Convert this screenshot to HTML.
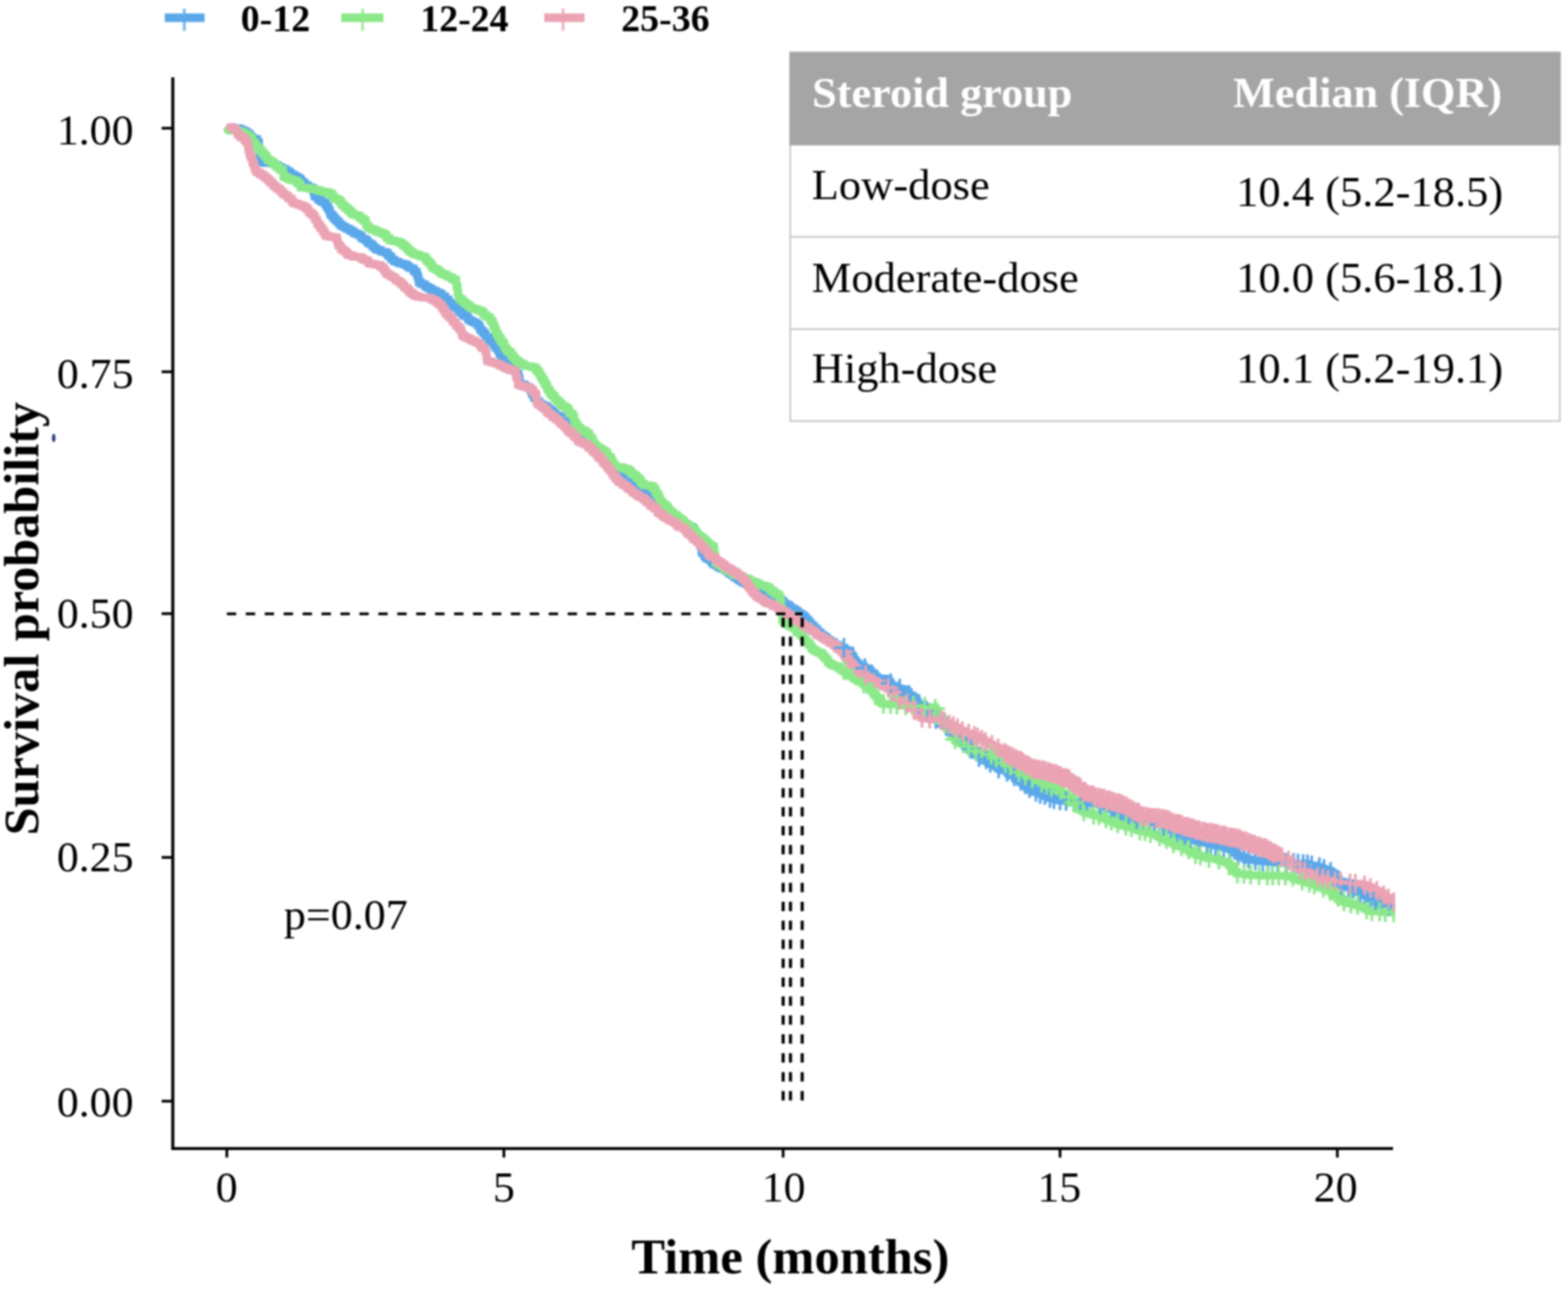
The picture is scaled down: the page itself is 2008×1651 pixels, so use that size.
<!DOCTYPE html>
<html lang="en"><head><meta charset="utf-8"><title>Survival probability by steroid group</title>
<style>
html,body{margin:0;padding:0;background:#fff;}
body{width:2008px;height:1651px;overflow:hidden;position:relative;font-family:"Liberation Serif",serif;}
</style></head><body>
<svg width="2008" height="1651" viewBox="0 0 2008 1651" style="position:absolute;left:0;top:0;filter:blur(1px)">
<rect width="2008" height="1651" fill="#fff"/>
<g stroke="#000" stroke-width="3.9" fill="none" stroke-linecap="butt">
<path d="M221.3 99V1471.1H1784"/>
<path d="M207 164.2H221.5" stroke-width="3.5"/>
<path d="M207 476.2H221.5" stroke-width="3.5"/>
<path d="M207 786H221.5" stroke-width="3.5"/>
<path d="M207 1098.2H221.5" stroke-width="3.5"/>
<path d="M207 1410.4H221.5" stroke-width="3.5"/>
<path d="M290.5 1471.1V1482.6" stroke-width="3.5"/>
<path d="M645.3 1471.1V1482.6" stroke-width="3.5"/>
<path d="M1002.9 1471.1V1482.6" stroke-width="3.5"/>
<path d="M1357.5 1471.1V1482.6" stroke-width="3.5"/>
<path d="M1712.6 1471.1V1482.6" stroke-width="3.5"/>
</g>
<defs><clipPath id="plotclip"><rect x="222" y="100" width="1564.5" height="1370"/></clipPath></defs>
<g clip-path="url(#plotclip)">
<path d="M296.0 163.0H297.7V164.1H301.2V164.1H303.1V164.2H305.5V164.7H307.9V166.3H309.0V166.3H311.9V167.9H315.1V169.9H317.6V171.3H319.8V174.3H322.1V176.1H324.1V177.9H327.7V177.9H329.4V179.8H329.4V182.5H331.8V184.9H331.8V187.8H331.8V190.2H331.8V192.4H332.4V195.5H332.4V197.6H332.4V200.5H332.8V202.3H334.0V205.8H334.0V208.3H336.2V208.3H339.2V208.9H340.0V208.9H343.4V208.9H346.1V208.9H347.7V208.9H350.7V210.0H352.1V211.2H355.6V213.0H357.3V213.8H360.2V215.6H362.3V216.5H366.0V218.6H369.3V220.4H371.6V222.5H373.8V224.2H377.6V226.0H379.8V227.2H382.8V228.9H385.2V232.1H387.6V234.0H390.0V236.9H392.7V237.4H394.7V240.0H399.1V241.2H401.0V242.4H401.2V244.1H401.9V247.9H402.8V249.4H402.8V251.6H405.7V252.9H407.4V255.9H409.8V256.7H411.6V258.6H415.1V259.4H416.6V262.0H418.5V265.0H420.2V267.3H421.4V269.3H422.4V271.6H422.9V274.8H425.3V276.0H426.6V279.0H429.1V281.5H431.3V283.7H434.1V286.7H436.5V289.0H439.2V290.2H440.7V291.1H443.4V293.0H447.1V294.7H449.5V296.0H451.5V296.7H453.5V299.0H456.8V299.3H458.1V300.8H461.9V302.9H463.2V305.3H466.4V306.7H468.6V308.0H470.7V310.8H473.1V312.4H476.5V314.8H478.2V316.9H481.0V319.0H482.7V319.8H486.1V320.4H488.1V322.7H491.4V322.7H494.0V324.0H496.7V327.1H498.1V328.1H500.9V331.9H504.0V334.0H505.8V335.2H509.2V335.7H510.8V337.4H514.3V337.4H515.8V338.4H518.7V339.0H521.0V340.8H523.4V342.6H525.4V343.6H529.5V346.3H530.9V348.0H533.7V349.0H533.8V352.3H535.1V353.8H535.1V355.6H536.2V358.2H536.2V361.5H539.1V363.8H541.2V363.9H544.2V366.9H546.4V367.5H548.6V369.0H550.9V370.0H553.0V371.8H555.9V372.1H557.8V374.2H560.6V375.2H563.5V376.4H565.7V379.5H569.2V380.4H570.5V383.4H574.4V386.6H575.7V388.1H578.5V391.0H581.3V393.6H584.3V394.7H586.7V397.3H588.5V399.9H591.0V401.0H592.8V403.6H594.8V404.9H598.5V407.2H600.0V409.9H602.9V411.3H605.4V412.1H606.9V413.1H609.6V414.7H612.3V417.6H614.6V420.7H615.2V422.8H617.9V425.4H619.6V427.2H621.9V431.3H625.6V433.9H627.2V436.2H629.9V438.6H632.1V440.8H633.4V442.9H634.2V445.3H637.4V448.3H639.2V450.5H639.7V453.4H641.8V455.3H644.8V456.8H646.9V459.3H648.3V463.1H650.6V464.4H653.8V467.2H656.7V469.7H657.2V471.9H659.5V475.6H661.2V478.6H664.0V480.5H664.2V483.6H665.5V484.7H665.5V487.4H665.5V490.0H666.0V492.0H667.6V492.3H671.7V494.0H673.4V495.5H675.3V496.0H678.0V498.0H679.9V501.2H681.2V502.1H681.2V505.4H683.7V507.7H684.0V510.0H687.3V513.3H690.0V516.0H691.9V517.6H694.3V518.5H696.2V520.0H700.2V521.8H701.6V523.4H704.3V525.6H707.2V527.0H708.4V528.8H710.8V531.7H713.5V533.0H717.0V533.8H718.8V535.5H721.9V536.6H724.1V539.2H725.5V540.5H727.5V543.0H730.0V545.3H731.2V548.7H733.6V551.4H736.0V553.9H737.4V555.6H740.0V558.0H742.9V559.1H745.6V561.2H747.7V564.6H750.2V565.3H751.3V567.5H755.2V569.0H757.5V570.7H759.9V572.4H761.3V575.8H764.0V577.0H766.7V580.2H769.0V582.4H770.9V583.8H772.6V586.2H775.3V589.6H776.6V590.9H780.1V594.7H781.5V596.7H784.3V599.0H785.6V601.3H788.0V604.0H790.1V605.0H793.3V607.5H795.7V608.7H797.9V610.7H800.0V612.7H803.8V614.8H805.7V616.8H807.9V618.7H810.0V619.4H812.9V622.0H815.5V623.6H818.0V625.8H819.6V627.1H822.4V628.4H824.7V630.7H827.2V632.3H830.5V635.5H832.0V637.5H834.2V638.9H837.6V642.8H839.6V645.1H843.5V646.7H845.7V650.2H848.0V652.0H850.2V653.9H853.3V655.3H855.9V657.4H858.5V658.4H859.6V659.4H862.1V661.6H865.0V663.0H867.8V663.7H870.1V666.4H871.8V667.5H873.8V669.4H876.0V671.4H879.7V672.2H881.1V674.2H883.9V675.0H887.1V677.0H889.2V680.9H891.4V683.3H893.4V686.3H895.9V688.2H897.0V690.5H897.0V693.2H897.0V695.5H897.0V699.1H898.2V700.2H898.2V703.3H898.2V706.0H899.2V708.6H901.8V712.0H903.7V714.6H905.7V715.8H908.9V717.7H911.6V721.0H913.8V723.0H916.8V723.7H918.3V725.5H920.7V726.8H923.1V728.1H926.0V729.0H929.1V731.2H931.9V732.5H933.6V734.7H936.6V735.9H938.4V737.0H940.5V739.7H943.7V740.8H945.3V742.7H948.3V744.5H950.9V746.0H952.1V746.6H955.0V748.0H957.6V748.5H960.0V749.4H962.6V749.6H964.9V751.2H967.1V752.0H970.0V753.0H973.0V754.5H975.0V755.6H977.3V756.0H979.1V757.3H982.7V759.5H985.0V760.0H988.1V761.3H990.9V762.4H993.1V763.6H995.0V765.0H998.2V768.4H1000.2V769.5H1003.4V772.7H1006.0V774.2H1007.9V774.7H1010.4V776.9H1012.8V779.1H1015.4V779.9H1017.9V782.0H1020.9V783.7H1022.5V785.3H1025.2V786.8H1027.3V788.2H1029.9V790.7H1032.3V793.7H1035.3V796.6H1037.5V799.2H1039.3V801.4H1042.2V803.9H1043.8V805.7H1046.8V809.2H1048.9V810.2H1051.2V813.2H1054.3V815.0H1056.1V815.9H1058.7V819.0H1061.1V820.1H1063.7V822.1H1066.4V822.7H1068.5V825.7H1071.2V826.2H1073.6V828.0H1075.6V829.2H1077.5V829.6H1081.1V830.7H1082.0V832.7H1085.2V832.8H1087.6V834.0H1089.1V837.1H1090.0V839.7H1092.4V842.7H1093.5V844.8H1095.1V847.4H1097.0V849.7H1099.5V852.0H1101.5V853.5H1105.4V853.7H1106.9V855.8H1110.0V856.0H1113.1V859.2H1114.5V861.9H1118.3V863.5H1120.6V866.9H1123.4V869.0H1126.3V869.0H1128.4V869.0H1131.5V869.5H1133.7V870.2H1135.4V870.2H1137.6V872.4H1139.4V875.1H1141.3V878.6H1143.2V879.8H1146.1V880.8H1148.4V881.6H1151.8V881.7H1153.2V882.7H1156.5V883.0H1159.0V884.6H1160.8V886.2H1164.0V890.1H1165.7V891.0H1169.0V894.8H1171.0V896.6H1174.2V899.1H1175.5V901.8H1177.4V903.8H1179.8V905.6H1182.9V907.9H1184.7V909.9H1188.2V912.6H1190.0V915.0H1192.7V916.3H1195.6V918.3H1197.9V921.1H1201.2V921.3H1203.5V924.6H1205.2V925.5H1208.2V928.3H1210.5V930.0H1213.7V930.5H1216.6V932.0H1217.8V935.0H1221.0V936.5H1222.5V938.7H1225.0V941.3H1228.6V944.6H1229.5V945.5H1233.3V948.0H1234.6V950.6H1236.6V952.9H1239.9V956.6H1242.3V959.2H1244.6V960.9H1246.9V964.4H1249.0V966.0H1251.7V967.0H1253.1V969.8H1256.6V970.2H1259.1V972.1H1261.4V972.7H1263.6V974.8H1265.7V977.2H1268.6V978.3H1271.6V979.9H1273.7V981.0H1276.6V982.7H1278.2V984.4H1280.5V985.5H1284.3V986.6H1285.3V986.6H1289.2V988.4H1290.9V990.6H1293.6V991.0H1295.3V993.1H1298.5V994.3H1300.9V997.4H1304.2V998.1H1306.1V1000.3H1309.1V1002.3H1310.2V1004.8H1313.9V1006.7H1315.3V1009.5H1318.5V1011.0H1321.5V1012.7H1323.1V1013.0H1325.4V1014.3H1328.0V1014.9H1331.3V1017.1H1333.4V1017.1H1336.0V1018.3H1339.0V1019.9H1341.2V1020.9H1343.1V1022.3H1346.1V1022.3H1348.0V1023.7H1349.8V1023.7H1353.0V1023.7H1355.1V1024.6H1357.0V1025.3H1360.6V1025.3H1362.4V1025.3H1364.9V1025.9H1367.7V1025.9H1369.5V1026.7H1372.3V1026.7H1374.3V1027.4H1377.5V1027.5H1380.0V1027.5H1383.3V1028.1H1385.6V1028.3H1388.3V1028.3H1389.3V1028.3H1392.6V1029.2H1395.5V1029.2H1397.9V1029.2H1400.8V1029.3H1402.3V1029.3H1405.0V1029.6H1408.3V1030.6H1409.4V1030.8H1412.8V1032.5H1415.6V1032.7H1417.2V1034.6H1419.0V1034.6H1422.4V1035.7H1424.8V1037.0H1426.5V1038.6H1429.9V1041.0H1431.4V1042.2H1435.2V1045.3H1437.0V1047.0H1438.9V1048.0H1441.2V1048.0H1445.2V1048.4H1446.7V1049.1H1449.8V1049.4H1452.9V1049.4H1454.7V1049.5H1457.5V1050.1H1460.5V1051.0H1462.6V1051.6H1465.6V1051.6H1466.6V1052.4H1470.1V1052.5H1472.1V1052.8H1475.3V1054.0H1477.3V1054.0H1479.6V1054.5H1482.7V1055.4H1484.0V1056.0H1487.4V1056.4H1488.9V1057.9H1492.7V1059.6H1495.4V1060.2H1497.1V1061.2H1499.5V1062.0H1502.0V1063.5H1505.1V1065.7H1506.8V1066.5H1509.2V1067.4H1512.0V1069.3H1514.6V1071.4H1517.0V1072.0H1518.9V1073.0H1522.9V1073.9H1524.6V1074.0H1526.8V1075.7H1530.2V1076.0H1532.7V1077.2H1535.1V1077.2H1536.9V1078.5H1539.3V1079.1H1542.0V1079.4H1544.4V1079.7H1546.8V1079.8H1549.1V1081.0H1551.0V1081.1H1553.9V1082.9H1556.9V1082.9H1560.1V1082.9H1561.7V1084.4H1564.5V1084.4H1567.1V1085.1H1569.5V1085.6H1572.4V1086.6H1574.0V1086.8H1575.8V1088.1H1579.9V1090.3H1580.8V1092.4H1584.1V1095.6H1586.7V1096.8H1589.0V1097.9H1592.2V1097.9H1594.3V1099.8H1596.7V1099.8H1598.8V1101.2H1602.4V1101.2H1604.0V1101.8H1606.6V1101.9H1609.3V1101.9H1611.1V1102.1H1614.0V1103.2H1617.1V1103.4H1619.3V1103.4H1621.3V1103.6H1623.6V1103.6H1627.2V1103.6H1629.0V1104.0H1632.1V1104.0H1633.7V1104.9H1635.9V1104.9H1638.7V1105.1H1642.2V1105.1H1643.8V1105.3H1646.3V1105.3H1649.2V1105.3H1651.2V1105.3H1654.5V1105.3H1656.9V1105.9H1658.2V1105.9H1661.0V1105.9H1664.1V1105.9H1666.0V1105.9H1668.1V1106.4H1670.9V1106.4H1673.1V1107.1H1676.3V1108.3H1678.8V1108.3H1680.6V1108.3H1683.8V1109.0H1685.9V1110.3H1688.4V1110.4H1691.0V1111.8H1693.5V1113.0H1695.7V1114.5H1699.1V1114.8H1700.4V1115.4H1703.7V1116.7H1705.8V1119.4H1707.8V1122.3H1708.6V1124.1H1710.4V1125.9H1711.8V1128.6H1713.5V1131.6H1716.0V1134.0H1718.9V1134.8H1721.4V1134.9H1723.0V1136.3H1726.7V1136.7H1727.7V1136.7H1730.7V1138.5H1733.6V1139.0H1735.3V1139.8H1738.9V1142.4H1740.8V1142.9H1743.6V1143.1H1745.7V1144.6H1748.1V1147.0H1751.3V1147.0H1753.5V1149.0H1755.2V1151.1H1757.8V1152.0H1760.5V1153.2H1762.6V1155.0H1765.7V1158.1H1768.4V1159.0H1771.0V1159.0H1773.5V1159.3H1775.5V1159.8H1778.7V1160.2H1780.8V1161.0H1783.2V1161.3H1785.0V1161.5" fill="none" stroke="#5AA8EA" stroke-width="9.8" stroke-linejoin="miter" stroke-linecap="round"/>
<path d="M291.0 166.5H294.6V167.4H295.7V167.4H299.9V167.4H302.0V167.4H304.8V167.7H307.2V169.2H309.6V169.4H312.0V171.0H314.5V172.4H317.6V175.2H319.8V175.9H322.2V178.4H322.9V180.2H323.8V182.2H326.1V185.1H327.8V187.8H330.3V191.2H333.2V193.2H335.8V195.8H337.3V197.3H339.4V199.9H341.7V203.8H343.7V205.3H346.7V206.9H349.7V210.1H351.7V211.7H354.5V214.0H357.0V215.4H358.6V217.4H361.3V218.1H362.7V220.1H362.8V223.8H362.9V226.0H365.4V227.0H368.0V228.7H370.5V229.5H372.8V230.5H375.6V230.8H379.0V232.3H381.1V234.8H383.6V235.6H384.8V238.0H385.2V240.4H387.1V240.4H390.3V240.4H393.1V240.8H395.5V241.1H397.9V242.1H399.5V242.1H402.0V242.6H404.7V243.4H406.6V243.4H409.5V245.2H412.2V245.2H415.0V246.0H417.6V246.0H419.4V246.8H422.5V248.0H425.0V250.5H426.9V253.6H429.4V255.0H433.4V256.5H435.4V259.0H437.6V262.3H440.7V264.6H442.7V266.6H445.7V269.7H449.0V272.0H450.7V274.2H453.1V275.2H455.6V275.8H459.6V277.0H460.9V279.4H464.0V280.5H465.6V282.5H468.6V285.5H468.7V288.6H471.4V291.7H474.1V293.2H475.6V293.5H477.9V294.7H481.7V296.3H484.4V297.3H486.8V298.3H488.5V298.5H491.0V300.0H494.0V302.3H495.6V305.2H499.0V308.0H502.2V308.0H504.2V309.0H506.5V309.2H509.8V310.0H511.7V310.9H514.0V311.6H515.5V314.0H518.2V315.4H520.4V317.8H522.9V321.0H526.0V323.0H528.5V324.9H531.8V325.9H533.1V325.9H535.6V327.2H538.8V328.5H541.5V328.6H543.6V330.0H545.5V332.6H546.7V334.4H549.4V337.1H552.0V339.9H553.6V343.0H555.4V343.8H558.1V345.3H561.1V347.2H563.2V348.9H565.5V350.8H568.5V351.5H571.8V353.3H573.4V354.4H576.1V354.9H578.4V357.2H580.4V357.9H583.5V360.0H584.5V362.4H584.5V366.0H585.0V367.5H586.1V370.3H586.1V373.5H586.1V375.4H587.2V378.7H587.2V381.0H588.4V382.9H591.3V385.0H593.2V387.2H596.0V389.0H597.2V390.1H600.0V392.0H602.3V394.0H604.4V394.8H607.2V395.7H610.1V396.7H613.3V397.7H614.7V398.4H618.0V400.3H619.6V403.3H623.0V405.9H625.5V406.6H627.8V410.4H629.9V412.3H631.3V414.9H631.6V417.4H633.4V419.6H633.9V422.6H635.7V425.8H635.9V427.8H638.2V430.8H638.5V432.1H640.3V434.5H641.7V437.7H644.1V439.9H645.4V441.4H646.1V445.4H647.8V446.9H649.2V449.2H651.0V451.0H654.5V455.0H656.1V455.8H657.4V458.4H659.8V461.3H662.5V463.0H664.4V464.2H666.2V465.6H670.1V467.4H671.7V468.4H673.4V468.9H676.9V468.9H679.6V469.8H681.7V470.1H683.7V470.8H686.5V473.7H687.6V475.0H689.3V477.2H691.5V481.1H693.2V482.8H693.8V485.2H695.6V487.4H697.2V490.7H698.4V492.3H700.0V494.4H700.8V497.4H701.6V499.5H704.1V502.5H705.1V504.5H707.4V507.0H710.4V509.3H710.6V511.4H713.5V513.9H716.3V516.5H718.6V518.3H719.8V520.4H723.5V521.7H725.5V523.4H728.3V526.8H729.0V529.4H732.3V531.0H733.9V534.2H735.5V537.0H735.7V540.0H736.8V542.3H738.5V544.2H739.8V547.3H742.4V548.7H744.1V551.1H746.4V551.1H749.5V553.8H752.0V554.7H754.0V557.7H755.4V560.1H756.8V562.0H758.8V564.1H759.7V567.9H761.6V570.5H763.9V572.6H766.8V573.9H769.0V576.0H771.8V576.3H772.9V578.1H775.9V579.8H777.5V582.0H778.4V585.0H781.8V587.2H782.8V589.8H784.3V593.3H785.8V595.4H787.8V597.7H790.2V598.2H793.3V598.2H795.6V598.7H797.7V600.1H799.8V600.1H802.5V601.5H805.2V602.6H807.2V604.8H809.4V607.4H811.7V608.4H814.6V611.0H816.2V612.7H818.8V615.1H820.9V618.8H823.7V620.4H825.4V621.7H828.2V621.7H830.5V621.8H833.1V622.7H835.6V624.0H837.0V626.0H839.3V629.5H840.0V631.4H841.6V633.5H843.9V635.9H843.9V638.4H845.5V641.9H847.6V644.3H849.8V646.4H852.9V648.6H855.3V651.7H856.9V654.4H859.5V656.2H861.7V658.8H865.3V660.1H867.3V662.9H869.9V664.5H872.0V666.0H875.1V668.8H877.3V670.9H878.8V672.2H881.9V673.8H884.0V676.0H886.2V677.6H889.6V680.1H891.2V683.3H893.0V685.6H896.0V687.0H897.7V688.3H900.5V691.1H903.8V694.2H905.9V695.5H907.8V697.8H911.0V699.9H914.0V703.0H914.9V705.2H914.9V708.1H914.9V710.0H915.9V712.0H915.9V714.6H915.9V717.4H916.0V720.0H917.5V721.2H919.8V723.0H921.7V724.2H924.8V726.0H926.7V728.5H928.5V729.0H931.7V731.3H934.7V732.3H937.0V732.9H938.9V735.3H941.0V736.3H943.7V737.0H946.3V737.6H949.4V738.4H950.8V739.6H952.9V740.8H955.6V741.0H958.2V742.3H960.5V744.2H963.7V745.1H965.1V745.5H967.6V746.8H970.0V746.8H971.7V749.1H974.1V749.7H977.4V750.4H979.5V750.4H981.1V752.0H984.8V753.4H986.0V755.9H988.5V757.4H991.5V760.0H994.6V761.6H997.9V764.9H999.8V767.0H999.8V770.3H999.8V772.1H1000.5V774.0H1000.6V776.4H1000.6V780.5H1001.5V782.4H1001.5V785.6H1001.5V787.4H1001.5V790.0H1001.5V791.6H1002.1V794.1H1003.4V797.0H1005.0V797.9H1008.0V800.1H1011.2V802.0H1013.4V802.8H1015.4V804.2H1018.7V806.1H1019.7V809.7H1023.2V811.1H1025.3V813.7H1028.0V816.5H1029.9V818.8H1031.8V821.9H1034.6V823.9H1036.0V825.8H1038.5V829.5H1040.0V831.0H1041.9V832.8H1045.0V834.1H1046.2V835.3H1048.8V836.0H1051.7V838.0H1054.2V840.9H1056.7V843.6H1059.3V845.8H1060.5V848.9H1063.7V851.0H1066.7V852.6H1068.6V852.6H1070.3V853.3H1073.5V855.1H1075.6V856.0H1077.4V858.7H1081.3V860.5H1082.7V861.3H1084.7V864.2H1087.6V865.5H1090.3V866.5H1093.1V868.5H1094.6V869.7H1097.5V871.2H1099.5V872.7H1102.2V873.7H1104.7V875.6H1107.4V877.2H1108.8V879.4H1111.5V881.0H1113.5V883.6H1116.7V885.6H1118.7V889.0H1121.0V891.1H1122.6V893.5H1124.9V895.9H1126.6V898.8H1129.4V901.4H1131.4V901.5H1134.6V901.5H1136.5V902.1H1140.3V902.1H1142.4V902.5H1145.4V902.7H1147.3V902.7H1149.6V902.7H1153.2V902.7H1154.3V903.7H1157.3V903.7H1160.1V903.7H1163.5V903.7H1165.6V903.7H1169.0V903.7H1171.0V904.0H1173.5V904.0H1175.2V904.4H1178.0V904.4H1180.8V905.1H1183.3V905.1H1185.9V905.3H1187.2V905.3H1191.0V905.6H1192.1V905.6H1195.0V905.6H1197.3V907.6H1198.6V909.9H1199.4V911.8H1200.7V915.1H1202.4V917.4H1204.5V919.6H1207.1V921.9H1207.8V924.3H1209.0V926.5H1211.2V930.0H1212.0V932.7H1214.6V933.5H1216.3V936.6H1217.6V938.5H1219.2V941.7H1221.3V944.3H1222.8V947.0H1224.0V949.0H1226.0V949.4H1229.0V950.8H1230.9V952.4H1234.1V954.2H1236.8V956.0H1238.3V956.6H1240.8V958.1H1243.9V958.4H1246.2V960.5H1249.0V961.5H1251.4V963.0H1253.7V963.0H1257.2V963.9H1258.2V965.0H1261.1V966.1H1264.1V966.5H1267.0V966.8H1269.6V966.8H1270.9V968.9H1273.7V969.0H1275.3V971.0H1279.6V972.8H1281.8V973.3H1283.7V976.0H1286.0V977.4H1289.2V978.6H1290.3V981.1H1294.5V983.2H1296.4V983.9H1298.6V986.0H1301.8V986.5H1303.1V989.1H1306.8V989.7H1309.3V990.5H1311.2V991.7H1313.1V993.2H1315.1V994.9H1318.5V996.0H1321.3V996.9H1323.5V999.0H1326.0V1000.0H1328.2V1001.7H1330.2V1001.9H1333.3V1002.8H1336.6V1004.1H1338.3V1004.9H1340.6V1006.8H1343.7V1007.3H1345.0V1008.2H1347.4V1008.7H1349.7V1010.4H1353.0V1011.0H1356.3V1013.1H1358.0V1014.3H1360.2V1016.6H1362.6V1018.1H1364.7V1020.9H1368.5V1022.9H1370.3V1023.4H1372.2V1026.7H1375.0V1028.0H1378.4V1030.4H1380.1V1032.9H1382.0V1035.3H1384.8V1037.8H1387.5V1039.5H1389.9V1040.5H1392.6V1041.0H1394.9V1042.5H1398.0V1042.5H1400.0V1043.8H1402.9V1044.1H1405.0V1044.5H1408.3V1044.8H1410.2V1046.7H1412.4V1048.3H1415.8V1048.3H1417.7V1050.0H1420.4V1050.3H1423.0V1051.2H1424.4V1052.8H1427.8V1053.3H1430.0V1054.5H1432.5V1056.1H1435.5V1056.1H1438.2V1056.9H1439.7V1057.8H1442.9V1059.0H1445.1V1059.3H1447.1V1059.3H1449.7V1059.8H1453.0V1061.0H1454.7V1062.0H1457.4V1063.2H1459.1V1064.1H1461.9V1064.1H1464.8V1064.8H1467.9V1065.6H1468.9V1065.6H1471.3V1067.2H1475.0V1067.2H1476.8V1068.6H1479.6V1069.4H1482.9V1071.6H1485.4V1072.4H1487.3V1073.5H1489.8V1074.1H1492.3V1075.0H1494.1V1077.2H1497.0V1078.1H1499.2V1078.4H1501.6V1079.9H1503.6V1081.5H1507.3V1081.5H1508.3V1083.5H1511.2V1084.0H1514.0V1084.7H1516.1V1085.9H1519.0V1087.8H1520.7V1088.2H1522.9V1090.0H1525.2V1090.6H1527.3V1092.8H1531.0V1094.2H1532.8V1095.3H1535.0V1096.0H1536.7V1096.0H1540.2V1096.1H1541.5V1098.0H1544.1V1098.0H1546.8V1099.1H1548.5V1099.7H1551.4V1099.7H1554.2V1099.7H1557.4V1099.9H1559.0V1101.0H1562.0V1102.4H1563.9V1103.3H1565.7V1103.3H1569.0V1104.0H1571.5V1105.7H1574.6V1109.0H1577.0V1111.1H1578.1V1114.7H1581.0V1116.4H1584.0V1119.0H1585.8V1119.3H1588.9V1119.3H1590.7V1119.3H1594.5V1119.3H1596.0V1120.1H1599.2V1120.6H1601.8V1120.9H1604.0V1120.9H1605.9V1121.2H1608.1V1121.2H1610.8V1121.2H1614.0V1121.4H1617.3V1121.6H1619.2V1121.6H1622.3V1121.6H1623.4V1121.6H1625.6V1121.6H1629.2V1121.6H1632.1V1121.6H1633.3V1121.6H1637.3V1121.6H1638.9V1121.6H1640.6V1121.7H1644.7V1121.7H1647.0V1122.3H1648.6V1122.3H1651.4V1122.3H1653.3V1123.0H1656.6V1125.7H1659.0V1126.7H1661.5V1126.7H1664.7V1128.1H1666.9V1128.1H1668.6V1128.5H1670.8V1129.7H1673.7V1130.7H1676.9V1130.8H1678.8V1131.7H1682.1V1133.0H1683.5V1133.1H1687.1V1135.0H1687.9V1136.0H1691.0V1136.5H1694.2V1137.1H1695.8V1138.7H1699.4V1138.9H1701.8V1141.0H1703.7V1141.6H1705.6V1144.4H1708.8V1146.9H1711.1V1148.7H1713.5V1151.0H1716.0V1154.0H1718.4V1154.5H1720.3V1154.8H1723.2V1155.7H1726.1V1156.9H1728.1V1157.2H1730.7V1157.3H1732.9V1159.2H1736.0V1159.2H1739.3V1160.7H1740.4V1160.7H1742.8V1161.9H1745.9V1162.4H1748.4V1164.7H1751.6V1164.9H1753.5V1166.5H1755.0V1167.2H1758.1V1167.2H1760.1V1167.2H1762.8V1167.2H1765.1V1167.5H1768.6V1167.5H1770.3V1167.8H1773.5V1168.5H1776.2V1168.5H1778.3V1168.5H1780.3V1168.7H1782.7V1168.7H1785.0V1169.0" fill="none" stroke="#8CE98A" stroke-width="9.8" stroke-linejoin="miter" stroke-linecap="round"/>
<path d="M294.0 162.5H295.9V163.7H298.4V165.0H301.0V166.0H303.2V168.0H304.1V172.1H307.0V174.3H309.0V176.2H312.7V179.0H314.9V181.4H316.7V183.8H317.5V185.9H318.0V189.9H318.4V192.4H319.2V193.9H319.4V197.4H320.7V199.9H320.8V201.3H322.7V204.5H323.3V207.6H323.8V209.3H325.4V212.9H326.0V215.4H327.3V218.5H328.6V220.5H331.8V221.5H333.1V223.5H337.1V225.6H339.1V227.1H341.4V229.2H343.9V231.3H346.1V233.9H349.1V236.8H351.7V239.1H354.5V241.5H356.7V242.3H358.9V245.2H361.9V248.1H364.4V249.4H366.4V250.8H369.0V253.5H370.4V254.6H373.9V258.3H375.6V259.5H377.1V260.9H380.0V260.9H382.1V262.7H385.4V262.7H387.0V264.0H389.6V265.2H392.2V267.7H394.9V270.9H396.6V272.9H399.0V274.0H400.3V275.7H402.5V278.2H403.5V281.3H405.9V283.4H406.5V287.2H409.0V289.0H410.3V292.4H412.9V294.0H413.7V296.8H415.7V299.6H417.0V302.0H419.5V302.6H422.6V302.8H424.1V303.6H426.1V303.6H429.0V304.0H431.1V306.5H431.6V308.1H432.6V311.6H433.1V314.2H435.5V315.7H436.5V319.0H439.2V320.9H441.8V322.7H444.4V325.4H446.5V327.0H448.1V327.0H451.8V328.8H453.6V328.8H456.7V328.8H458.8V329.2H461.5V330.0H463.8V331.8H466.1V333.0H469.5V333.9H471.6V336.8H474.0V338.0H476.1V338.0H479.3V338.3H480.6V339.1H484.0V339.1H486.0V340.0H487.7V342.0H490.6V344.5H492.6V346.3H493.7V349.5H496.0V351.5H499.2V353.1H500.5V354.2H503.6V355.9H506.6V358.8H507.9V359.4H511.0V361.5H514.2V364.3H516.8V366.2H518.1V368.6H521.9V371.1H524.0V374.0H526.1V375.5H528.5V377.2H531.0V379.0H534.3V379.0H535.1V380.4H539.2V380.7H540.9V381.0H544.3V381.0H546.5V381.3H548.6V381.3H551.4V382.6H553.2V383.9H555.5V385.0H558.7V387.0H561.0V389.0H563.6V390.7H565.9V394.3H568.0V397.2H570.1V399.1H570.5V401.9H573.5V404.0H575.1V406.1H578.1V408.9H579.8V412.1H582.3V413.4H583.8V416.8H586.3V419.1H588.5V421.0H589.5V423.0H591.1V426.6H591.7V429.0H593.5V431.0H596.4V432.5H598.4V432.5H600.0V433.8H602.6V435.7H604.0V435.8H606.8V437.4H609.5V438.6H612.0V439.8H614.6V441.3H615.5V443.9H617.7V446.2H621.4V450.0H622.7V451.7H622.7V454.4H623.0V456.8H623.3V460.1H623.9V462.5H626.5V462.9H628.1V463.6H630.4V464.7H633.9V465.1H635.9V466.0H637.5V466.6H640.4V468.6H643.5V469.4H646.0V471.0H647.8V472.0H650.1V472.5H652.6V473.8H654.9V474.5H657.3V474.5H659.8V475.6H660.4V478.3H660.4V480.2H661.2V483.4H662.6V484.9H663.0V488.1H663.0V489.8H663.3V492.3H665.0V493.6H668.4V494.6H671.0V495.0H673.3V495.5H674.6V496.4H677.7V497.0H678.9V498.8H682.3V501.0H683.2V503.6H686.0V506.7H687.1V508.9H687.1V512.8H687.2V515.0H688.9V518.0H692.3V520.4H695.2V522.3H697.3V523.8H699.7V527.0H701.6V529.4H704.4V530.4H706.8V533.5H708.0V534.1H711.2V536.7H713.5V537.8H715.4V539.6H717.8V542.8H721.2V544.7H722.9V547.1H725.5V549.7H727.6V552.0H729.5V554.5H733.5V556.7H735.0V559.3H737.9V561.4H740.0V564.8H742.7V566.5H745.1V567.2H747.2V568.7H750.3V569.0H752.0V570.8H753.7V573.6H757.5V575.6H759.0V578.3H761.0V579.9H763.9V582.7H765.8V585.5H768.4V587.5H771.4V591.4H773.1V593.6H775.9V595.9H777.7V599.2H780.0V600.8H781.3V603.1H783.8V606.4H785.2V609.1H787.8V612.0H789.9V614.5H792.0V617.0H795.0V618.3H797.3V620.8H799.8V622.2H802.8V624.2H804.5V626.4H807.6V627.7H809.7V630.6H811.7V631.7H814.0V632.7H816.0V635.0H819.2V636.8H821.9V637.0H823.7V638.9H825.5V640.5H827.9V643.3H831.5V645.7H832.8V647.6H835.6V649.0H837.7V651.1H840.8V652.8H842.1V656.4H844.8V657.9H847.6V660.4H850.1V662.2H851.5V663.0H854.6V664.7H856.6V666.3H859.5V667.6H862.8V669.0H864.6V670.2H866.6V672.8H868.8V674.8H872.0V675.7H875.1V677.0H877.6V679.6H879.6V682.3H881.2V684.2H883.9V685.9H886.6V688.8H888.3V691.1H891.9V693.4H893.6V694.7H895.9V697.8H898.3V700.2H901.1V703.4H903.2V705.1H905.7V708.6H907.8V711.0H909.6V713.4H912.9V713.6H915.8V715.3H917.1V718.0H919.8V719.3H922.4V721.1H924.8V722.6H926.6V723.8H928.5V726.4H931.7V727.7H934.6V729.3H936.9V730.6H938.5V732.2H942.0V733.1H943.7V735.5H946.1V737.1H948.9V739.3H950.5V741.4H953.3V744.1H955.6V745.6H956.8V748.9H957.9V750.6H959.4V753.0H961.6V756.4H964.1V759.0H965.0V760.2H967.6V763.0H969.8V765.1H972.9V766.8H974.9V767.3H976.9V769.1H979.5V771.3H981.9V772.5H983.8V773.0H987.2V773.7H989.6V776.3H991.5V776.7H994.7V777.8H996.4V779.5H998.9V781.5H1001.4V781.6H1003.4V783.3H1006.4V784.7H1008.4V786.5H1009.7V788.0H1013.3V789.0H1015.4V790.4H1017.8V792.2H1019.6V794.3H1021.7V796.2H1025.2V798.0H1027.3V800.0H1029.9V802.4H1033.0V802.5H1035.3V805.0H1036.5V806.1H1039.8V808.0H1041.7V808.9H1044.6V812.2H1046.6V813.8H1049.7V814.1H1051.7V816.5H1054.7V818.1H1057.3V819.8H1059.3V820.5H1061.9V823.0H1063.7V823.7H1066.7V825.2H1068.9V827.0H1070.1V827.9H1072.5V829.8H1075.6V832.0H1076.8V834.4H1079.6V836.9H1080.9V839.5H1082.8V841.6H1084.5V843.9H1087.3V846.2H1088.3V849.5H1091.3V851.0H1092.7V853.7H1095.0V856.0H1097.5V857.4H1098.8V859.2H1102.6V860.9H1104.4V862.9H1106.3V864.7H1109.0V866.5H1111.5V869.0H1113.0V869.5H1115.7V871.4H1117.8V871.7H1120.9V873.6H1123.4V875.0H1126.2V875.4H1128.0V877.2H1129.7V879.4H1132.5V879.4H1135.4V881.0H1137.7V882.6H1140.4V885.2H1141.8V886.9H1145.3V889.5H1147.8V892.1H1150.4V894.0H1152.0V896.6H1153.9V897.8H1157.3V900.1H1158.8V900.8H1161.8V904.0H1164.0V904.0H1165.4V905.7H1168.0V907.2H1171.0V909.7H1172.4V912.4H1176.2V914.0H1178.6V916.9H1180.0V919.4H1182.9V920.4H1185.6V920.4H1186.8V920.4H1190.4V920.4H1191.6V921.3H1193.7V921.3H1196.5V921.5H1200.0V921.5H1202.0V922.2H1204.0V922.2H1207.0V923.4H1209.5V924.4H1211.0V925.4H1214.0V927.2H1215.5V927.9H1218.7V930.0H1221.0V930.9H1223.0V931.8H1225.8V932.8H1227.8V935.0H1230.1V936.4H1232.9V936.4H1234.5V938.5H1237.6V939.5H1240.4V939.7H1242.9V941.1H1244.2V941.4H1246.1V942.4H1250.1V942.8H1251.7V944.5H1254.2V945.1H1255.7V947.4H1258.4V947.6H1260.6V950.0H1263.8V950.2H1265.6V953.3H1267.9V953.9H1270.7V955.6H1273.4V956.9H1275.6V957.7H1278.1V958.6H1279.8V959.8H1283.4V961.3H1284.3V964.3H1287.0V965.6H1289.2V966.2H1291.8V968.3H1294.9V969.4H1297.6V971.2H1299.5V972.0H1301.8V973.7H1304.5V974.3H1307.8V976.6H1310.3V977.4H1312.4V979.4H1315.3V980.2H1317.2V982.4H1320.0V983.9H1321.6V984.5H1325.2V984.8H1327.5V985.7H1329.1V985.8H1332.9V986.3H1334.3V986.4H1336.3V987.1H1340.0V988.6H1342.3V989.6H1344.0V989.6H1346.6V990.9H1348.8V990.9H1351.9V992.6H1354.3V992.8H1356.4V993.5H1359.2V995.3H1360.3V996.2H1362.5V996.2H1365.8V996.8H1367.8V998.0H1370.2V1000.2H1371.8V1002.2H1374.6V1003.6H1377.1V1006.0H1380.2V1007.1H1381.4V1009.0H1384.4V1010.5H1386.3V1013.7H1389.7V1016.0H1391.7V1017.0H1395.0V1018.4H1396.3V1018.4H1398.5V1019.1H1401.3V1020.0H1403.4V1021.3H1405.7V1021.3H1409.1V1022.7H1410.5V1022.7H1413.8V1022.7H1415.6V1024.3H1417.3V1025.1H1420.4V1025.1H1422.0V1025.9H1425.6V1027.1H1428.4V1028.4H1430.8V1028.4H1431.8V1028.5H1434.6V1029.8H1436.3V1030.9H1439.5V1031.5H1441.2V1032.6H1443.8V1034.9H1446.5V1035.4H1448.2V1037.1H1451.7V1039.0H1454.6V1040.6H1455.8V1040.9H1459.1V1043.5H1461.0V1045.0H1463.4V1045.8H1465.9V1045.8H1467.6V1045.8H1470.8V1047.2H1473.7V1047.2H1475.6V1047.8H1478.3V1047.8H1480.0V1047.8H1481.9V1047.8H1485.2V1048.8H1487.3V1048.8H1489.8V1048.9H1491.8V1049.8H1495.0V1050.6H1497.7V1050.9H1498.9V1052.4H1501.5V1053.9H1504.6V1054.9H1506.6V1054.9H1508.9V1055.8H1511.2V1056.6H1513.6V1056.9H1516.3V1058.8H1517.6V1059.0H1520.5V1059.5H1523.8V1061.0H1525.7V1061.0H1528.6V1061.0H1530.0V1062.9H1532.3V1062.9H1535.0V1063.7H1538.2V1065.0H1539.5V1065.0H1541.8V1065.0H1544.2V1066.5H1546.2V1066.5H1548.9V1066.5H1551.8V1067.5H1554.8V1067.8H1557.2V1067.8H1559.0V1068.5H1561.2V1069.9H1563.4V1069.9H1566.7V1069.9H1569.4V1069.9H1571.4V1072.0H1573.8V1072.5H1576.4V1073.1H1579.6V1073.1H1582.5V1073.9H1584.1V1073.9H1587.7V1074.8H1589.2V1076.9H1593.0V1076.9H1595.7V1078.1H1597.2V1078.2H1600.0V1079.8H1602.3V1081.6H1604.6V1081.6H1606.9V1081.8H1609.7V1084.0H1611.7V1084.0H1615.8V1085.9H1618.4V1085.9H1620.0V1086.8H1622.2V1089.0H1624.9V1089.9H1627.1V1090.1H1629.6V1092.7H1632.9V1093.8H1634.8V1095.1H1637.2V1096.5H1639.8V1097.8H1642.9V1098.9H1645.0V1101.8H1647.9V1102.1H1650.6V1104.9H1651.7V1105.4H1654.3V1106.7H1658.2V1108.9H1659.8V1110.7H1663.0V1111.3H1663.9V1113.9H1667.8V1115.3H1670.1V1115.7H1672.7V1116.2H1674.8V1118.1H1676.6V1119.6H1679.7V1120.7H1681.9V1121.5H1684.4V1121.9H1686.9V1123.1H1690.5V1124.5H1692.8V1125.1H1694.2V1126.1H1696.7V1126.1H1699.6V1126.7H1702.1V1127.6H1704.3V1127.9H1706.7V1129.0H1709.5V1129.0H1712.1V1129.8H1715.4V1129.8H1716.9V1130.3H1719.5V1130.6H1721.2V1130.6H1725.1V1131.2H1726.2V1131.4H1729.2V1131.7H1731.7V1131.7H1734.5V1131.7H1736.8V1131.7H1739.4V1131.7H1742.3V1131.8H1744.0V1133.2H1746.7V1134.0H1749.7V1136.0H1752.1V1136.0H1753.9V1137.2H1757.1V1137.9H1759.4V1139.6H1761.1V1140.9H1764.0V1142.1H1766.9V1145.4H1769.4V1146.7H1772.4V1148.5H1774.3V1149.6H1777.4V1150.8H1779.3V1151.5H1782.0V1153.2H1783.6V1155.4H1786.0V1156.0" fill="none" stroke="#EBA3B4" stroke-width="9.8" stroke-linejoin="miter" stroke-linecap="round"/>
<g fill="none" stroke-width="3.4">
<path stroke="#EBA3B4" d="M1079.6 821.9v25M1067.1 834.4h25"/>
<path stroke="#5AA8EA" d="M1107.7 843.3v25M1095.2 855.8h25M1080.7 817.1v25M1068.2 829.6h25"/>
<path stroke="#8CE98A" d="M1106.1 863.1v25M1093.6 875.6h25M1080.8 846.2v25M1068.3 858.7h25"/>
<path stroke="#EBA3B4" d="M1108.5 852.2v25M1096.0 864.7h25"/>
<path stroke="#5AA8EA" d="M1140.5 862.6v25M1128.0 875.1h25M1152.2 869.2v25M1139.7 881.7h25"/>
<path stroke="#8CE98A" d="M1148.6 890.2v25M1136.1 902.7h25M1140.5 889.6v25M1128.0 902.1h25M1159.6 891.2v25M1147.1 903.7h25M1131.4 888.9v25M1118.9 901.4h25"/>
<path stroke="#EBA3B4" d="M1137.5 868.5v25M1125.0 881.0h25M1152.3 884.1v25M1139.8 896.6h25"/>
<path stroke="#5AA8EA" d="M1176.9 889.3v25M1164.4 901.8h25M1186.4 897.4v25M1173.9 909.9h25"/>
<path stroke="#8CE98A" d="M1184.3 892.6v25M1171.8 905.1h25"/>
<path stroke="#5AA8EA" d="M1198.5 908.6v25M1186.0 921.1h25M1164.2 877.6v25M1151.7 890.1h25"/>
<path stroke="#8CE98A" d="M1197.8 895.1v25M1185.3 907.6h25M1169.8 891.2v25M1157.3 903.7h25"/>
<path stroke="#EBA3B4" d="M1161.7 888.3v25M1149.2 900.8h25M1190.6 907.9v25M1178.1 920.4h25M1180.8 906.9v25M1168.3 919.4h25M1171.6 897.2v25M1159.1 909.7h25"/>
<path stroke="#5AA8EA" d="M1238.3 940.4v25M1225.8 952.9h25M1231.5 933.0v25M1219.0 945.5h25M1211.6 917.5v25M1199.1 930.0h25M1225.9 928.8v25M1213.4 941.3h25"/>
<path stroke="#8CE98A" d="M1210.6 914.0v25M1198.1 926.5h25M1233.7 939.9v25M1221.2 952.4h25M1223.1 934.5v25M1210.6 947.0h25"/>
<path stroke="#EBA3B4" d="M1215.7 915.4v25M1203.2 927.9h25M1220.8 917.5v25M1208.3 930.0h25M1226.3 920.3v25M1213.8 932.8h25M1232.4 923.9v25M1219.9 936.4h25M1209.1 910.9v25M1196.6 923.4h25M1204.4 909.7v25M1191.9 922.2h25"/>
<path stroke="#5AA8EA" d="M1253.7 957.3v25M1241.2 969.8h25M1268.1 964.7v25M1255.6 977.2h25M1279.0 971.9v25M1266.5 984.4h25M1243.8 946.7v25M1231.3 959.2h25"/>
<path stroke="#8CE98A" d="M1256.9 950.5v25M1244.4 963.0h25"/>
<path stroke="#5AA8EA" d="M1262.8 960.2v25M1250.3 972.7h25"/>
<path stroke="#8CE98A" d="M1249.8 949.0v25M1237.3 961.5h25M1240.7 944.1v25M1228.2 956.6h25"/>
<path stroke="#EBA3B4" d="M1257.1 934.9v25M1244.6 947.4h25M1261.9 937.5v25M1249.4 950.0h25M1251.8 932.0v25M1239.3 944.5h25M1270.2 941.4v25M1257.7 953.9h25"/>
<path stroke="#8CE98A" d="M1269.3 954.3v25M1256.8 966.8h25M1275.7 958.5v25M1263.2 971.0h25"/>
<path stroke="#EBA3B4" d="M1278.3 946.1v25M1265.8 958.6h25M1240.6 927.2v25M1228.1 939.7h25M1247.7 929.9v25M1235.2 942.4h25"/>
<path stroke="#5AA8EA" d="M1298.7 981.8v25M1286.2 994.3h25M1318.4 997.0v25M1305.9 1009.5h25M1307.4 987.8v25M1294.9 1000.3h25M1289.8 975.9v25M1277.3 988.4h25M1313.3 992.3v25M1300.8 1004.8h25"/>
<path stroke="#8CE98A" d="M1313.1 980.7v25M1300.6 993.2h25M1294.0 968.6v25M1281.5 981.1h25M1304.8 976.6v25M1292.3 989.1h25M1287.4 964.9v25M1274.9 977.4h25"/>
<path stroke="#EBA3B4" d="M1306.9 961.8v25M1294.4 974.3h25M1293.3 955.8v25M1280.8 968.3h25M1319.6 969.9v25M1307.1 982.4h25M1289.9 953.7v25M1277.4 966.2h25M1297.0 956.9v25M1284.5 969.4h25M1303.3 961.2v25M1290.8 973.7h25M1310.0 964.1v25M1297.5 976.6h25M1316.6 967.7v25M1304.1 980.2h25M1300.5 959.5v25M1288.0 972.0h25M1286.3 951.8v25M1273.8 964.3h25M1313.4 966.9v25M1300.9 979.4h25"/>
<path stroke="#5AA8EA" d="M1357.5 1012.8v25M1345.0 1025.3h25M1349.7 1011.2v25M1337.2 1023.7h25M1344.6 1009.8v25M1332.1 1022.3h25M1332.0 1004.6v25M1319.5 1017.1h25M1338.1 1005.8v25M1325.6 1018.3h25"/>
<path stroke="#8CE98A" d="M1340.0 992.4v25M1327.5 1004.9h25"/>
<path stroke="#5AA8EA" d="M1326.6 1001.8v25M1314.1 1014.3h25"/>
<path stroke="#8CE98A" d="M1333.9 990.3v25M1321.4 1002.8h25M1322.0 984.4v25M1309.5 996.9h25"/>
<path stroke="#EBA3B4" d="M1328.4 973.2v25M1315.9 985.7h25M1330.9 973.3v25M1318.4 985.8h25"/>
<path stroke="#8CE98A" d="M1358.8 1001.8v25M1346.3 1014.3h25"/>
<path stroke="#EBA3B4" d="M1322.5 972.0v25M1310.0 984.5h25M1351.8 978.4v25M1339.3 990.9h25M1354.4 980.3v25M1341.9 992.8h25M1357.7 981.0v25M1345.2 993.5h25"/>
<path stroke="#8CE98A" d="M1346.4 995.7v25M1333.9 1008.2h25"/>
<path stroke="#EBA3B4" d="M1345.1 977.1v25M1332.6 989.6h25M1334.5 973.9v25M1322.0 986.4h25M1325.5 972.3v25M1313.0 984.8h25M1341.8 976.1v25M1329.3 988.6h25M1338.0 974.6v25M1325.5 987.1h25M1348.3 978.4v25M1335.8 990.9h25"/>
<path stroke="#5AA8EA" d="M1365.2 1013.4v25M1352.7 1025.9h25M1375.2 1014.9v25M1362.7 1027.4h25M1392.2 1015.8v25M1379.7 1028.3h25"/>
<path stroke="#8CE98A" d="M1368.4 1008.4v25M1355.9 1020.9h25"/>
<path stroke="#5AA8EA" d="M1383.3 1015.6v25M1370.8 1028.1h25"/>
<path stroke="#EBA3B4" d="M1397.9 1005.9v25M1385.4 1018.4h25M1389.6 1001.2v25M1377.1 1013.7h25"/>
<path stroke="#8CE98A" d="M1387.9 1027.0v25M1375.4 1039.5h25"/>
<path stroke="#EBA3B4" d="M1386.9 1001.2v25M1374.4 1013.7h25M1392.3 1004.5v25M1379.8 1017.0h25"/>
<path stroke="#8CE98A" d="M1375.0 1015.5v25M1362.5 1028.0h25"/>
<path stroke="#EBA3B4" d="M1366.1 984.3v25M1353.6 996.8h25M1395.0 1005.9v25M1382.5 1018.4h25M1383.8 996.5v25M1371.3 1009.0h25M1375.0 991.1v25M1362.5 1003.6h25M1360.7 983.7v25M1348.2 996.2h25M1369.2 985.5v25M1356.7 998.0h25M1381.2 994.6v25M1368.7 1007.1h25M1363.4 983.7v25M1350.9 996.2h25M1378.2 993.5v25M1365.7 1006.0h25M1371.9 989.7v25M1359.4 1002.2h25"/>
<path stroke="#5AA8EA" d="M1434.5 1029.7v25M1422.0 1042.2h25M1400.2 1016.7v25M1387.7 1029.2h25M1416.9 1020.2v25M1404.4 1032.7h25"/>
<path stroke="#8CE98A" d="M1423.2 1038.7v25M1410.7 1051.2h25M1400.5 1031.3v25M1388.0 1043.8h25M1407.3 1032.0v25M1394.8 1044.5h25"/>
<path stroke="#5AA8EA" d="M1409.1 1018.1v25M1396.6 1030.6h25M1423.6 1023.2v25M1411.1 1035.7h25"/>
<path stroke="#8CE98A" d="M1431.4 1042.0v25M1418.9 1054.5h25"/>
<path stroke="#EBA3B4" d="M1438.6 1018.4v25M1426.1 1030.9h25M1435.6 1017.3v25M1423.1 1029.8h25M1429.7 1015.9v25M1417.2 1028.4h25"/>
<path stroke="#8CE98A" d="M1416.3 1035.8v25M1403.8 1048.3h25"/>
<path stroke="#EBA3B4" d="M1400.4 1006.6v25M1387.9 1019.1h25M1407.5 1008.8v25M1395.0 1021.3h25M1426.1 1014.6v25M1413.6 1027.1h25M1403.7 1008.8v25M1391.2 1021.3h25M1417.5 1012.6v25M1405.0 1025.1h25M1413.8 1010.2v25M1401.3 1022.7h25M1422.6 1013.4v25M1410.1 1025.9h25M1433.0 1016.0v25M1420.5 1028.5h25M1420.0 1012.6v25M1407.5 1025.1h25M1410.4 1010.2v25M1397.9 1022.7h25"/>
<path stroke="#5AA8EA" d="M1464.8 1039.1v25M1452.3 1051.6h25M1445.5 1035.9v25M1433.0 1048.4h25M1478.1 1041.5v25M1465.6 1054.0h25M1471.7 1040.0v25M1459.2 1052.5h25"/>
<path stroke="#8CE98A" d="M1448.9 1046.8v25M1436.4 1059.3h25"/>
<path stroke="#5AA8EA" d="M1455.6 1037.0v25M1443.1 1049.5h25"/>
<path stroke="#8CE98A" d="M1459.8 1051.6v25M1447.3 1064.1h25"/>
<path stroke="#EBA3B4" d="M1468.3 1033.3v25M1455.8 1045.8h25M1452.0 1026.5v25M1439.5 1039.0h25M1471.6 1034.7v25M1459.1 1047.2h25M1445.8 1022.4v25M1433.3 1034.9h25M1475.0 1034.7v25M1462.5 1047.2h25"/>
<path stroke="#8CE98A" d="M1473.4 1054.7v25M1460.9 1067.2h25"/>
<path stroke="#EBA3B4" d="M1442.2 1020.1v25M1429.7 1032.6h25"/>
<path stroke="#8CE98A" d="M1466.2 1052.3v25M1453.7 1064.8h25"/>
<path stroke="#EBA3B4" d="M1477.7 1035.3v25M1465.2 1047.8h25"/>
<path stroke="#8CE98A" d="M1441.8 1045.3v25M1429.3 1057.8h25"/>
<path stroke="#EBA3B4" d="M1462.0 1032.5v25M1449.5 1045.0h25M1455.6 1028.1v25M1443.1 1040.6h25M1458.6 1028.4v25M1446.1 1040.9h25M1449.3 1024.6v25M1436.8 1037.1h25M1464.5 1033.3v25M1452.0 1045.8h25"/>
<path stroke="#5AA8EA" d="M1517.3 1059.5v25M1504.8 1072.0h25M1507.2 1054.0v25M1494.7 1066.5h25M1499.8 1049.5v25M1487.3 1062.0h25"/>
<path stroke="#8CE98A" d="M1513.0 1071.5v25M1500.5 1084.0h25"/>
<path stroke="#5AA8EA" d="M1490.2 1045.4v25M1477.7 1057.9h25M1484.8 1043.5v25M1472.3 1056.0h25"/>
<path stroke="#8CE98A" d="M1493.9 1062.5v25M1481.4 1075.0h25"/>
<path stroke="#EBA3B4" d="M1499.4 1039.9v25M1486.9 1052.4h25M1513.1 1044.1v25M1500.6 1056.6h25M1510.6 1043.3v25M1498.1 1055.8h25M1484.1 1035.3v25M1471.6 1047.8h25"/>
<path stroke="#8CE98A" d="M1485.1 1059.1v25M1472.6 1071.6h25M1502.8 1067.4v25M1490.3 1079.9h25"/>
<path stroke="#EBA3B4" d="M1487.4 1036.3v25M1474.9 1048.8h25M1480.9 1035.3v25M1468.4 1047.8h25M1519.6 1046.5v25M1507.1 1059.0h25M1493.7 1037.3v25M1481.2 1049.8h25M1502.0 1041.4v25M1489.5 1053.9h25M1490.3 1036.4v25M1477.8 1048.9h25M1505.4 1042.4v25M1492.9 1054.9h25M1516.4 1046.3v25M1503.9 1058.8h25M1496.6 1038.1v25M1484.1 1050.6h25M1507.9 1042.4v25M1495.4 1054.9h25"/>
<path stroke="#5AA8EA" d="M1545.5 1067.2v25M1533.0 1079.7h25M1556.7 1070.4v25M1544.2 1082.9h25M1550.5 1068.5v25M1538.0 1081.0h25M1524.6 1061.5v25M1512.1 1074.0h25M1535.4 1064.7v25M1522.9 1077.2h25"/>
<path stroke="#8CE98A" d="M1531.0 1081.7v25M1518.5 1094.2h25"/>
<path stroke="#EBA3B4" d="M1542.4 1052.5v25M1529.9 1065.0h25"/>
<path stroke="#8CE98A" d="M1548.3 1086.6v25M1535.8 1099.1h25M1537.2 1083.5v25M1524.7 1096.0h25"/>
<path stroke="#EBA3B4" d="M1556.8 1055.3v25M1544.3 1067.8h25M1522.8 1047.0v25M1510.3 1059.5h25M1553.8 1055.0v25M1541.3 1067.5h25M1551.3 1054.0v25M1538.8 1066.5h25"/>
<path stroke="#8CE98A" d="M1522.3 1075.7v25M1509.8 1088.2h25"/>
<path stroke="#EBA3B4" d="M1539.9 1052.5v25M1527.4 1065.0h25M1545.3 1054.0v25M1532.8 1066.5h25M1559.7 1056.0v25M1547.2 1068.5h25M1536.1 1051.2v25M1523.6 1063.7h25M1531.1 1050.4v25M1518.6 1062.9h25M1548.0 1054.0v25M1535.5 1066.5h25M1528.2 1048.5v25M1515.7 1061.0h25M1533.7 1050.4v25M1521.2 1062.9h25M1525.2 1048.5v25M1512.7 1061.0h25"/>
<path stroke="#5AA8EA" d="M1575.0 1074.3v25M1562.5 1086.8h25M1598.7 1087.3v25M1586.2 1099.8h25M1567.2 1072.6v25M1554.7 1085.1h25M1585.9 1083.1v25M1573.4 1095.6h25M1593.3 1085.4v25M1580.8 1097.9h25"/>
<path stroke="#8CE98A" d="M1561.1 1088.5v25M1548.6 1101.0h25"/>
<path stroke="#EBA3B4" d="M1568.6 1057.4v25M1556.1 1069.9h25"/>
<path stroke="#8CE98A" d="M1584.6 1106.5v25M1572.1 1119.0h25"/>
<path stroke="#EBA3B4" d="M1597.0 1065.6v25M1584.5 1078.1h25M1578.6 1060.6v25M1566.1 1073.1h25"/>
<path stroke="#8CE98A" d="M1573.9 1093.2v25M1561.4 1105.7h25"/>
<path stroke="#EBA3B4" d="M1585.0 1061.4v25M1572.5 1073.9h25M1571.7 1059.5v25M1559.2 1072.0h25"/>
<path stroke="#8CE98A" d="M1593.1 1106.8v25M1580.6 1119.3h25"/>
<path stroke="#EBA3B4" d="M1587.8 1062.3v25M1575.3 1074.8h25M1575.4 1060.0v25M1562.9 1072.5h25M1565.7 1057.4v25M1553.2 1069.9h25M1590.2 1064.4v25M1577.7 1076.9h25M1581.6 1060.6v25M1569.1 1073.1h25M1593.3 1064.4v25M1580.8 1076.9h25M1563.3 1057.4v25M1550.8 1069.9h25"/>
<path stroke="#5AA8EA" d="M1617.2 1090.9v25M1604.7 1103.4h25M1623.8 1091.1v25M1611.3 1103.6h25M1629.3 1091.5v25M1616.8 1104.0h25M1636.3 1092.4v25M1623.8 1104.9h25M1607.5 1089.4v25M1595.0 1101.9h25"/>
<path stroke="#8CE98A" d="M1637.6 1109.1v25M1625.1 1121.6h25M1623.1 1109.1v25M1610.6 1121.6h25M1612.4 1108.7v25M1599.9 1121.2h25"/>
<path stroke="#EBA3B4" d="M1619.0 1073.4v25M1606.5 1085.9h25"/>
<path stroke="#8CE98A" d="M1601.6 1108.1v25M1589.1 1120.6h25"/>
<path stroke="#EBA3B4" d="M1627.3 1077.6v25M1614.8 1090.1h25M1638.1 1084.0v25M1625.6 1096.5h25M1624.6 1076.5v25M1612.1 1089.0h25M1616.1 1073.4v25M1603.6 1085.9h25"/>
<path stroke="#8CE98A" d="M1629.9 1109.1v25M1617.4 1121.6h25"/>
<path stroke="#EBA3B4" d="M1612.9 1071.5v25M1600.4 1084.0h25M1621.8 1074.3v25M1609.3 1086.8h25M1610.1 1071.5v25M1597.6 1084.0h25M1635.6 1082.6v25M1623.1 1095.1h25M1600.4 1067.3v25M1587.9 1079.8h25M1606.6 1069.1v25M1594.1 1081.6h25M1603.2 1069.1v25M1590.7 1081.6h25M1632.6 1080.2v25M1620.1 1092.7h25M1630.1 1080.2v25M1617.6 1092.7h25"/>
<path stroke="#5AA8EA" d="M1674.4 1094.6v25M1661.9 1107.1h25M1656.6 1092.8v25M1644.1 1105.3h25M1662.3 1093.4v25M1649.8 1105.9h25"/>
<path stroke="#8CE98A" d="M1676.9 1118.2v25M1664.4 1130.7h25"/>
<path stroke="#5AA8EA" d="M1647.1 1092.8v25M1634.6 1105.3h25M1679.8 1095.8v25M1667.3 1108.3h25M1668.8 1093.9v25M1656.3 1106.4h25"/>
<path stroke="#EBA3B4" d="M1655.2 1094.2v25M1642.7 1106.7h25"/>
<path stroke="#8CE98A" d="M1646.1 1109.2v25M1633.6 1121.7h25"/>
<path stroke="#EBA3B4" d="M1641.5 1085.3v25M1629.0 1097.8h25"/>
<path stroke="#8CE98A" d="M1655.7 1110.5v25M1643.2 1123.0h25"/>
<path stroke="#EBA3B4" d="M1678.8 1107.1v25M1666.3 1119.6h25M1664.8 1101.4v25M1652.3 1113.9h25"/>
<path stroke="#8CE98A" d="M1667.4 1115.6v25M1654.9 1128.1h25"/>
<path stroke="#EBA3B4" d="M1650.1 1089.6v25M1637.6 1102.1h25M1670.9 1103.2v25M1658.4 1115.7h25"/>
<path stroke="#5AA8EA" d="M1717.8 1121.5v25M1705.3 1134.0h25M1711.7 1113.4v25M1699.2 1125.9h25M1689.6 1097.9v25M1677.1 1110.4h25M1704.0 1104.2v25M1691.5 1116.7h25"/>
<path stroke="#8CE98A" d="M1694.8 1124.6v25M1682.3 1137.1h25"/>
<path stroke="#5AA8EA" d="M1695.6 1100.5v25M1683.1 1113.0h25"/>
<path stroke="#EBA3B4" d="M1709.9 1116.5v25M1697.4 1129.0h25"/>
<path stroke="#8CE98A" d="M1703.8 1129.1v25M1691.3 1141.6h25M1713.5 1136.2v25M1701.0 1148.7h25M1683.1 1120.5v25M1670.6 1133.0h25"/>
<path stroke="#EBA3B4" d="M1694.2 1112.6v25M1681.7 1125.1h25M1687.2 1110.6v25M1674.7 1123.1h25M1716.9 1117.3v25M1704.4 1129.8h25M1700.9 1114.2v25M1688.4 1126.7h25"/>
<path stroke="#5AA8EA" d="M1727.2 1124.2v25M1714.7 1136.7h25M1747.6 1132.1v25M1735.1 1144.6h25M1733.0 1126.0v25M1720.5 1138.5h25M1741.9 1130.4v25M1729.4 1142.9h25M1755.1 1136.5v25M1742.6 1149.0h25"/>
<path stroke="#8CE98A" d="M1738.7 1146.7v25M1726.2 1159.2h25M1756.9 1154.7v25M1744.4 1167.2h25"/>
<path stroke="#EBA3B4" d="M1755.0 1124.7v25M1742.5 1137.2h25"/>
<path stroke="#8CE98A" d="M1721.0 1142.3v25M1708.5 1154.8h25M1750.1 1152.2v25M1737.6 1164.7h25M1730.0 1144.7v25M1717.5 1157.2h25"/>
<path stroke="#EBA3B4" d="M1735.7 1119.2v25M1723.2 1131.7h25M1728.9 1118.9v25M1716.4 1131.4h25M1747.5 1121.5v25M1735.0 1134.0h25"/>
<path stroke="#5AA8EA" d="M1761.4 1140.7v25M1748.9 1153.2h25"/>
<path stroke="#8CE98A" d="M1774.0 1156.0v25M1761.5 1168.5h25"/>
<path stroke="#5AA8EA" d="M1768.0 1145.6v25M1755.5 1158.1h25M1778.8 1147.7v25M1766.3 1160.2h25"/>
<path stroke="#8CE98A" d="M1766.7 1155.0v25M1754.2 1167.5h25M1784.8 1156.2v25M1772.3 1168.7h25"/>
<path stroke="#EBA3B4" d="M1771.9 1134.2v25M1759.4 1146.7h25M1778.1 1138.3v25M1765.6 1150.8h25M1785.0 1142.9v25M1772.5 1155.4h25M1763.1 1128.4v25M1750.6 1140.9h25"/>
</g>
</g>
<g stroke="#000" stroke-width="4" fill="none" stroke-dasharray="12 12.25">
<path d="M290.5 786.3H1027.6" stroke-width="3.5"/>
<path d="M1002.9 1409.4V786"/>
<path d="M1012.3 1409.4V786"/>
<path d="M1027.3 1409.4V786"/>
</g>
<path d="M211 22.8H262" stroke="#5AA8EA" stroke-width="11" fill="none"/>
<path d="M236 11V39.5" stroke="#5AA8EA" stroke-width="3.6" fill="none" opacity="0.8"/>
<path d="M437 22.8H491" stroke="#8CE98A" stroke-width="11" fill="none"/>
<path d="M464.3 11V39.5" stroke="#8CE98A" stroke-width="3.6" fill="none" opacity="0.8"/>
<path d="M697 22.8H748.5" stroke="#EBA3B4" stroke-width="11" fill="none"/>
<path d="M721 11V39.5" stroke="#EBA3B4" stroke-width="3.6" fill="none" opacity="0.8"/>
<rect x="1011.5" y="67" width="986.5" height="472.5" fill="#fff"/>
<g stroke="#C8C8C8" stroke-width="2.2" fill="none">
<rect x="1012" y="67.5" width="985.5" height="471.8"/>
<path d="M1012 303.3H1997.5M1012 421.6H1997.5"/>
</g>
<rect x="1010.9" y="66.4" width="987.7" height="119.8" fill="#A5A5A5"/>
<g font-family="'Liberation Serif', serif" fill="#000">
<text transform="translate(308.3 39.9) scale(0.98 1)" font-size="49.5" font-weight="bold">0-12</text>
<text transform="translate(538.2 39.9) scale(0.98 1)" font-size="49.5" font-weight="bold">12-24</text>
<text transform="translate(795.5 39.9) scale(0.98 1)" font-size="49.5" font-weight="bold">25-36</text>
<text transform="translate(171 185.2) scale(1.025 1)" font-size="54.8" text-anchor="end">1.00</text>
<text transform="translate(171 496.9) scale(1.025 1)" font-size="54.8" text-anchor="end">0.75</text>
<text transform="translate(171 803.8) scale(1.025 1)" font-size="54.8" text-anchor="end">0.50</text>
<text transform="translate(171 1116.1) scale(1.025 1)" font-size="54.8" text-anchor="end">0.25</text>
<text transform="translate(171 1430.1) scale(1.025 1)" font-size="54.8" text-anchor="end">0.00</text>
<text transform="translate(290.3 1538.9) scale(1.025 1)" font-size="54.8" text-anchor="middle">0</text>
<text transform="translate(645.3 1538.9) scale(1.025 1)" font-size="54.8" text-anchor="middle">5</text>
<text transform="translate(1003.6 1538.9) scale(1.025 1)" font-size="54.8" text-anchor="middle">10</text>
<text transform="translate(1356.5 1538.9) scale(1.025 1)" font-size="54.8" text-anchor="middle">15</text>
<text transform="translate(1710.4 1538.9) scale(1.025 1)" font-size="54.8" text-anchor="middle">20</text>
<text transform="translate(363.5 1190) scale(1.033 1)" font-size="54.6">p=0.07</text>
<text transform="translate(808.5 1630.8) scale(1.0065 1)" font-size="64.4" font-weight="bold">Time (months)</text>
<text transform="translate(48.5 1070) rotate(-90)" font-size="64.4" font-weight="bold">Survival probability</text>
<text transform="translate(1040 136.8) scale(1.023 1)" font-size="55.4" font-weight="bold" fill="#fff">Steroid group</text>
<text transform="translate(1579 136.8) scale(1.023 1)" font-size="55.4" font-weight="bold" fill="#fff">Median (IQR)</text>
<text transform="translate(1039.5 255) scale(1.037 1)" font-size="55">Low-dose</text>
<text transform="translate(1583 264) scale(1.037 1)" font-size="55">10.4 (5.2-18.5)</text>
<text transform="translate(1039.5 373.5) scale(1.037 1)" font-size="55">Moderate-dose</text>
<text transform="translate(1583 373.5) scale(1.037 1)" font-size="55">10.0 (5.6-18.1)</text>
<text transform="translate(1039.5 490) scale(1.037 1)" font-size="55">High-dose</text>
<text transform="translate(1583 490) scale(1.037 1)" font-size="55">10.1 (5.2-19.1)</text>
</g>
<ellipse cx="68.8" cy="561" rx="2.3" ry="5.2" fill="#1d2f74" opacity="0.9"/>
</svg>
</body></html>
